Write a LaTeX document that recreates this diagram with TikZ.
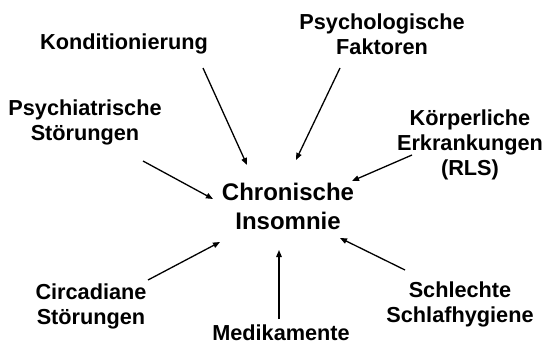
\documentclass[tikz,border=0pt]{standalone}
\usepackage{fontspec}
\setmainfont{Liberation Sans}
\usetikzlibrary{arrows.meta}
\tikzset{
  lbl/.style={font=\bfseries\fontsize{21.7}{25}\selectfont, align=center, inner sep=0pt},
  mainlbl/.style={font=\bfseries\fontsize{24}{29}\selectfont, align=center, inner sep=0pt},
  arr/.style={-{Triangle[length=7pt,width=5.5pt]}, line width=1.3pt, black}
}
\begin{document}
\begin{tikzpicture}[x=1pt,y=-1pt]
\useasboundingbox (0,0) rectangle (545,345);
\fill[white] (0,0) rectangle (545,345);
\node[mainlbl] (ci) at (288,206) {Chronische\\Insomnie};
\node[lbl] (kond) at (124,44) {Konditionierung};
\node[lbl] (psyf) at (382,34) {Psychologische\\Faktoren};
\node[lbl] (psys) at (85,122) {Psychiatrische\\Störungen};
\node[lbl] (koerp) at (470,145) {Körperliche\\Erkrankungen\\(RLS)};
\node[lbl] (circ) at (91,306) {Circadiane\\Störungen};
\node[lbl] (med) at (281,333) {Medikamente};
\node[lbl] (schl) at (460,304) {Schlechte\\Schlafhygiene};
\coordinate (a1) at (203,68);  \coordinate (b1) at (247,165);
\coordinate (a2) at (340,68);  \coordinate (b2) at (296,160);
\coordinate (a3) at (143,161); \coordinate (b3) at (213,199);
\coordinate (a4) at (412,155); \coordinate (b4) at (352,181);
\coordinate (a5) at (148,280); \coordinate (b5) at (220,242);
\coordinate (a6) at (279,319); \coordinate (b6) at (279,250);
\coordinate (a7) at (405,270); \coordinate (b7) at (340,238);
\draw[arr] (a1) -- (b1);
\draw[arr] (a2) -- (b2);
\draw[arr] (a3) -- (b3);
\draw[arr] (a4) -- (b4);
\draw[arr] (a5) -- (b5);
\draw[arr] (a6) -- (b6);
\draw[arr] (a7) -- (b7);
\end{tikzpicture}
\end{document}
